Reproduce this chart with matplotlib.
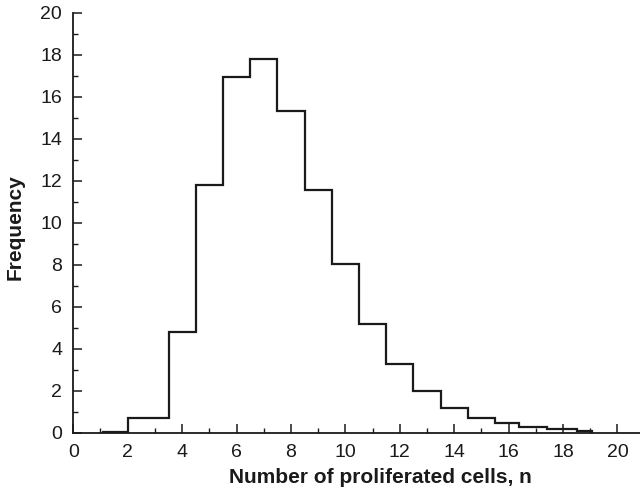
import matplotlib
matplotlib.use('Agg')
import matplotlib.pyplot as plt
from matplotlib.ticker import MultipleLocator

# histogram: bin edges and frequencies
bin_edges = [1.1, 2.0, 3.5, 4.5, 5.5, 6.5, 7.5, 8.5, 9.5, 10.5, 11.5,
             12.5, 13.5, 14.5, 15.5, 16.4, 17.4, 18.5, 19.05]
frequency = [0.04, 0.70, 4.77, 11.79, 16.96, 17.79, 15.32, 11.57, 8.01,
             5.19, 3.27, 1.98, 1.18, 0.68, 0.44, 0.25, 0.15, 0.08]

x_ticks = list(range(0, 21, 2))
y_ticks = list(range(0, 21, 2))

plt.rcParams['font.family'] = ['Liberation Sans', 'DejaVu Sans']

fig = plt.figure(figsize=(6.4, 4.96), dpi=100)
ax = fig.add_axes([0.1145, 0.128, 0.8855, 0.846])

ax.stairs(frequency, bin_edges, color='#1a1a1a', linewidth=1.6, baseline=0)

ax.set_xlim(0, 20.83)
ax.set_ylim(0, 20)
ax.set_xticks(x_ticks)
ax.set_yticks(y_ticks)
ax.xaxis.set_minor_locator(MultipleLocator(1))
ax.yaxis.set_minor_locator(MultipleLocator(1))

ax.spines['top'].set_visible(False)
ax.spines['right'].set_visible(False)
for side in ['left', 'bottom']:
    ax.spines[side].set_linewidth(1.3)
    ax.spines[side].set_color('#1a1a1a')

ax.tick_params(which='major', direction='in', length=6.3, width=1.1,
               labelsize=14, colors='#1a1a1a')
ax.tick_params(which='minor', direction='in', length=3.6, width=1.0,
               colors='#1a1a1a')
ax.tick_params(axis='x', which='major', pad=8)
ax.tick_params(axis='y', which='major', pad=8)

# axis titles placed where they sit in the reference (not centred on the axes)
fig.text(380 / 640, 1 - 482.7 / 496, 'Number of proliferated cells, n',
         fontsize=15, fontweight='bold', ha='center', va='baseline',
         color='#1a1a1a')
fig.text(20.7 / 640, 1 - 227.5 / 496, 'Frequency', fontsize=15,
         fontweight='bold', rotation=90, ha='center', va='baseline',
         rotation_mode='anchor', color='#1a1a1a')

fig.savefig('out.png', dpi=100)
